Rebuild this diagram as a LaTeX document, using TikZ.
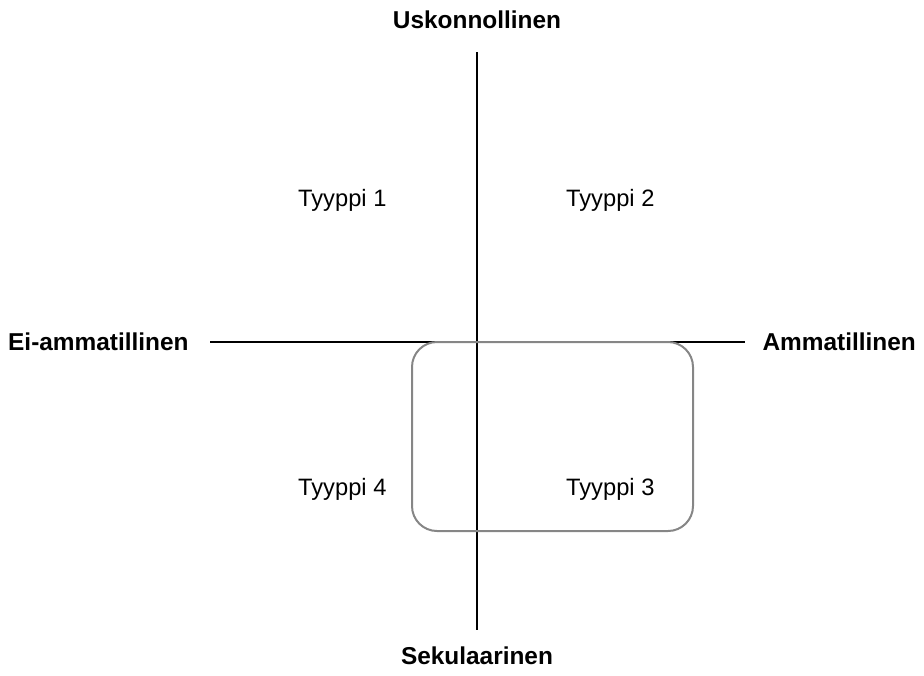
\documentclass[tikz,border=0pt]{standalone}
\usepackage{fontspec}
\setmainfont{Liberation Sans}
\begin{document}
\begin{tikzpicture}[x=1pt,y=-1pt,
  axis/.style={line width=1.5pt,black},
  axlabel/.style={font=\fontsize{24.4}{29}\selectfont\bfseries,inner sep=0pt},
  typelabel/.style={font=\fontsize{23.7}{28}\selectfont,inner sep=0pt,anchor=base west},
  groupbox/.style={draw=gray!95,line width=2pt,rounded corners=25pt}]
\useasboundingbox (0,0) rectangle (924,675);
\coordinate (vt) at (477,52);
\coordinate (vb) at (477,630);
\coordinate (hl) at (210,342);
\coordinate (hr) at (745,342);
\draw[axis] (vt) -- (vb);
\draw[axis] (hl) -- (hr);
\draw[groupbox] (412,342) rectangle (693,531);
\node[axlabel,anchor=base] (up) at (477,28) {Uskonnollinen};
\node[axlabel,anchor=base] (down) at (477,664) {Sekulaarinen};
\node[axlabel,anchor=base west] (left) at (8,350) {Ei-ammatillinen};
\node[axlabel,anchor=base east] (right) at (916,350) {Ammatillinen};
\node[typelabel] (t1) at (298,206) {Tyyppi 1};
\node[typelabel] (t2) at (566,206) {Tyyppi 2};
\node[typelabel] (t4) at (298,495) {Tyyppi 4};
\node[typelabel] (t3) at (566,495) {Tyyppi 3};
\end{tikzpicture}
\end{document}
